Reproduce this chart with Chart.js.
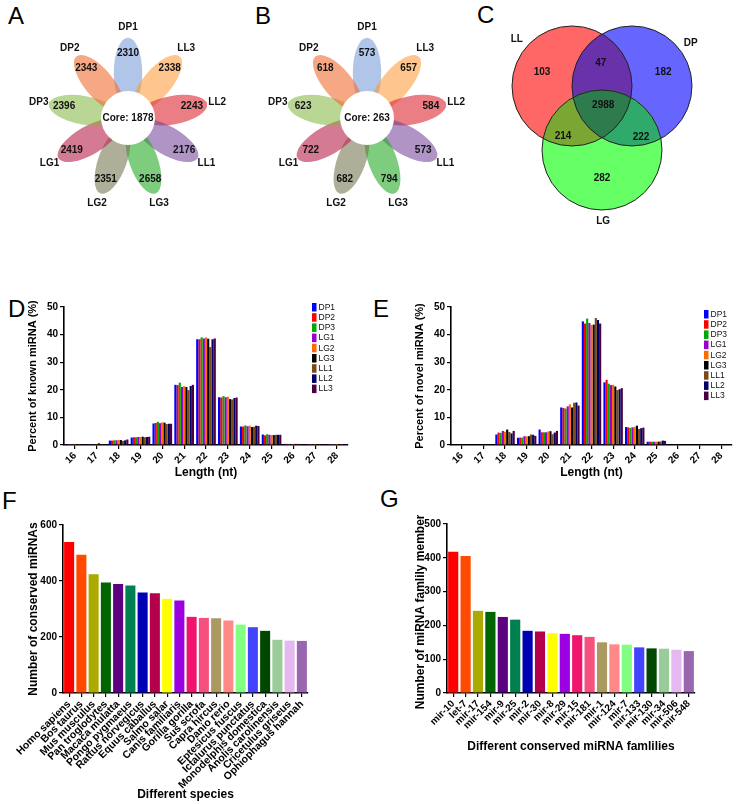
<!DOCTYPE html>
<html>
<head>
<meta charset="utf-8">
<script src="https://cdn.jsdelivr.net/npm/chart.js@4.4.0/dist/chart.umd.min.js"></script>
<style>
  body { margin: 0; background: #fff; }
  #fig { position: relative; width: 736px; height: 804px; overflow: hidden; font-family: 'Liberation Sans', Arial, sans-serif; }
  #fig canvas { position: absolute; }
  .tag { position: absolute; font-size: 24px; line-height: 1; color: #000; }
</style>
</head>
<body>
<div id="fig">
  <div class="tag" style="left:8px;top:4px">A</div>
  <div class="tag" style="left:255px;top:4px">B</div>
  <div class="tag" style="left:477px;top:3px">C</div>
  <div class="tag" style="left:8px;top:297px">D</div>
  <div class="tag" style="left:373px;top:297px">E</div>
  <div class="tag" style="left:2px;top:489px">F</div>
  <div class="tag" style="left:380px;top:487px">G</div>

  <canvas id="chartA" width="206" height="206" style="left:25px;top:15px"></canvas>
  <canvas id="chartB" width="206" height="206" style="left:264px;top:15px"></canvas>
  <canvas id="chartC" width="240" height="240" style="left:482px;top:0px"></canvas>
  <canvas id="chartD" width="360" height="195" style="left:0px;top:295px"></canvas>
  <canvas id="chartE" width="376" height="195" style="left:360px;top:295px"></canvas>
  <canvas id="chartF" width="360" height="289" style="left:0px;top:515px"></canvas>
  <canvas id="chartG" width="376" height="289" style="left:360px;top:515px"></canvas>
</div>

<script>
const FONT = "'Liberation Sans', Arial, sans-serif";
Chart.defaults.font.family = FONT;
Chart.defaults.color = '#000';

// ---- A / B flower plots: petals go clockwise from the top
const flowerSamples = ['DP1', 'LL3', 'LL2', 'LL1', 'LG3', 'LG2', 'LG1', 'DP3', 'DP2'];
const knownCounts = [2310, 2338, 2243, 2176, 2658, 2351, 2419, 2396, 2343];
const knownCore = 1878;
const novelCounts = [573, 657, 584, 573, 794, 682, 722, 623, 618];
const novelCore = 263;

// ---- C venn
const vennSets = ['LL', 'DP', 'LG'];
const vennRegions = ['LL', 'LL+DP', 'DP', 'LL+DP+LG', 'LL+LG', 'DP+LG', 'LG'];
const vennCounts = [103, 47, 182, 2988, 214, 222, 282];

// ---- D / E length distribution
const lengths = ['16', '17', '18', '19', '20', '21', '22', '23', '24', '25', '26', '27', '28'];
const samples = ['DP1', 'DP2', 'DP3', 'LG1', 'LG2', 'LG3', 'LL1', 'LL2', 'LL3'];
// one row per sample, 16..28 nt
const knownPct = [
  [0.1, 0.3, 1.6, 2.7, 7.8, 21.8, 38.3, 17.3, 6.7, 3.8, 0.4, 0.1, 0.05],
  [0.1, 0.3, 1.6, 2.8, 8.0, 21.7, 38.3, 17.2, 6.7, 3.5, 0.4, 0.1, 0.05],
  [0.1, 0.3, 1.7, 2.8, 8.4, 22.6, 39.0, 17.7, 7.1, 3.9, 0.4, 0.1, 0.05],
  [0.1, 0.3, 1.7, 2.9, 7.9, 21.0, 38.6, 17.3, 6.8, 3.7, 0.4, 0.1, 0.05],
  [0.1, 0.3, 1.8, 2.9, 8.2, 21.3, 39.0, 17.5, 7.0, 3.6, 0.4, 0.1, 0.05],
  [0.1, 0.6, 1.8, 3.0, 8.1, 21.0, 38.5, 16.6, 6.5, 3.6, 0.4, 0.1, 0.05],
  [0.1, 0.3, 1.5, 2.8, 7.6, 19.9, 35.5, 16.5, 6.6, 3.7, 0.4, 0.1, 0.05],
  [0.1, 0.3, 1.7, 2.9, 7.7, 21.4, 38.3, 17.0, 7.0, 3.7, 0.3, 0.1, 0.05],
  [0.1, 0.3, 2.0, 3.0, 7.7, 21.8, 38.6, 17.2, 6.9, 3.7, 0.3, 0.1, 0.05]
];
const novelPct = [
  [0, 0, 3.8, 2.6, 5.6, 13.6, 44.8, 22.7, 6.5, 1.2, 0, 0, 0],
  [0, 0, 4.5, 2.7, 4.6, 13.4, 44.0, 23.6, 6.4, 1.2, 0, 0, 0],
  [0, 0, 4.4, 2.7, 4.6, 13.2, 45.8, 22.2, 6.2, 1.2, 0, 0, 0],
  [0, 0, 5.1, 3.2, 4.6, 14.0, 44.2, 21.7, 6.4, 1.2, 0, 0, 0],
  [0, 0, 4.8, 3.1, 4.9, 14.7, 43.5, 21.8, 6.5, 1.2, 0, 0, 0],
  [0, 0, 5.6, 3.2, 5.0, 13.6, 43.6, 21.2, 7.0, 1.2, 0, 0, 0],
  [0, 0, 4.7, 3.8, 3.9, 15.3, 46.0, 19.9, 5.8, 1.3, 0, 0, 0],
  [0, 0, 4.2, 3.7, 4.5, 15.4, 45.3, 20.2, 6.1, 1.6, 0, 0, 0],
  [0, 0, 5.1, 3.3, 5.1, 14.3, 44.0, 20.6, 6.3, 1.5, 0, 0, 0]
];

// ---- F species
const species = ['Homo sapiens', 'Bos taurus', 'Mus musculus', 'Pan troglodytes', 'Macaca mulatta',
  'Pongo pygmaeus', 'Rattus norvegicus', 'Equus caballus', 'Salmo salar', 'Canis familiaris',
  'Gorilla gorilla', 'Sus scrofa', 'Capra hircus', 'Danio rerio', 'Eptesicus fuscus',
  'Ictalurus punctatus', 'Monodelphis domestica', 'Anolis carolinensis', 'Cricetulus griseus', 'Ophiophagus hannah'];
const speciesCounts = [539, 494, 424, 395, 389, 384, 359, 356, 337, 330, 272, 268, 267, 259, 244, 235, 222, 190, 187, 186];

// ---- G families
const families = ['mir-10', 'let-7', 'mir-17', 'mir-154', 'mir-9', 'mir-25', 'mir-2', 'mir-30', 'mir-8', 'mir-29',
  'mir-15', 'mir-181', 'mir-1', 'mir-124', 'mir-7', 'mir-133', 'mir-130', 'mir-34', 'mir-506', 'mir-548'];
const familyCounts = [418, 405, 243, 240, 225, 217, 184, 182, 177, 175, 171, 166, 150, 144, 143, 135, 132, 131, 128, 124];

// styles
const petalColors = ['rgba(100,140,210,0.5)', 'rgba(255,150,50,0.55)', 'rgba(220,40,50,0.6)', 'rgba(110,60,150,0.55)',
  'rgba(40,170,40,0.6)', 'rgba(110,110,70,0.55)', 'rgba(185,40,80,0.62)', 'rgba(130,180,60,0.55)', 'rgba(240,110,50,0.6)'];
const sampleColors = ['#0000ff', '#ff0000', '#00a800', '#9a00d0', '#ff6a00', '#000000', '#7b4a1a', '#00006a', '#4a0040'];
const rainbow = ['#ff0000', '#ff4a00', '#aaaa00', '#006400', '#5a0080', '#008050', '#0000b4', '#b4004a', '#ffff00', '#9b00e0',
  '#f0146e', '#f5507e', '#aa9a62', '#ff8888', '#80ff80', '#4444ff', '#004800', '#99cc99', '#e6b8f0', '#9966b0'];

// flower drawing
const flowerPlugin = {
  id: 'flower',
  beforeDatasetsDraw(chart, args, o) {
    const { ctx, scales: { x, y } } = chart;
    const u = x.getPixelForValue(1) - x.getPixelForValue(0);
    const cx = x.getPixelForValue(0), cy = y.getPixelForValue(0);
    o.labels.forEach((lab, i) => {
      const a = (90 - i * 40) * Math.PI / 180;
      ctx.save();
      ctx.translate(cx, cy);
      ctx.rotate(-a);
      ctx.beginPath();
      ctx.ellipse(0.44 * u, 0, 0.34 * u, 0.138 * u, 0, 0, Math.PI * 2);
      ctx.fillStyle = petalColors[i];
      ctx.fill();
      ctx.restore();
    });
    ctx.beginPath();
    ctx.arc(cx, cy, 0.262 * u, 0, Math.PI * 2);
    ctx.fillStyle = '#fff';
    ctx.fill();
  },
  afterDatasetsDraw(chart, args, o) {
    const { ctx, scales: { x, y } } = chart;
    const u = x.getPixelForValue(1) - x.getPixelForValue(0);
    const cx = x.getPixelForValue(0), cy = y.getPixelForValue(0);
    ctx.save();
    ctx.textAlign = 'center';
    ctx.textBaseline = 'middle';
    ctx.font = 'bold 10px ' + FONT;
    ctx.fillStyle = '#111';
    o.labels.forEach((lab, i) => {
      const a = (90 - i * 40) * Math.PI / 180;
      ctx.fillText(String(o.counts[i]), cx + 0.63 * u * Math.cos(a), cy - 0.63 * u * Math.sin(a));
      ctx.fillText(lab, cx + 0.88 * u * Math.cos(a), cy - 0.88 * u * Math.sin(a));
    });
    ctx.fillText('Core: ' + o.core, cx, cy);
    ctx.restore();
  }
};

function flower(id, counts, core) {
  return new Chart(document.getElementById(id), {
    type: 'scatter',
    data: { datasets: [{ data: [] }] },
    options: {
      responsive: false, animation: false,
      layout: { padding: 0 },
      plugins: { legend: { display: false }, tooltip: { enabled: false },
        flower: { labels: flowerSamples, counts: counts, core: core } },
      scales: { x: { display: false, min: -1, max: 1 }, y: { display: false, min: -1, max: 1 } }
    },
    plugins: [flowerPlugin]
  });
}
flower('chartA', knownCounts, knownCore);
flower('chartB', novelCounts, novelCore);

// venn drawing
const vennCenters = [[-0.5, 0.567], [0.5, 0.567], [0, -0.5]];
const vennSetPos = [[-1.42, 1.35], [1.48, 1.28], [0.02, -1.68]];
const vennRegionPos = [[-1.0, 0.8], [-0.02, 0.95], [1.02, 0.8], [0.02, 0.25], [-0.65, -0.27], [0.65, -0.28], [0, -0.97]];
const vennFills = ['#ff6666', '#6666ff', '#66ff66'];

const vennPlugin = {
  id: 'venn',
  beforeDatasetsDraw(chart) {
    const { ctx, scales: { x, y } } = chart;
    const r = x.getPixelForValue(1) - x.getPixelForValue(0);
    const c = vennCenters.map(p => [x.getPixelForValue(p[0]), y.getPixelForValue(p[1])]);
    const circle = i => { ctx.beginPath(); ctx.arc(c[i][0], c[i][1], r, 0, Math.PI * 2); };
    [0, 1, 2].forEach(i => { circle(i); ctx.fillStyle = vennFills[i]; ctx.fill(); });
    const clipFill = (ids, col) => {
      ctx.save();
      ids.forEach(i => { circle(i); ctx.clip(); });
      ctx.fillStyle = col;
      ctx.fillRect(0, 0, chart.width, chart.height);
      ctx.restore();
    };
    clipFill([0, 1], '#6a32aa');
    clipFill([0, 2], '#7aa633');
    clipFill([1, 2], '#30aa6a');
    clipFill([0, 1, 2], '#2e7b4e');
    ctx.strokeStyle = '#222';
    ctx.lineWidth = 1;
    [0, 1, 2].forEach(i => { circle(i); ctx.stroke(); });
  },
  afterDatasetsDraw(chart) {
    const { ctx, scales: { x, y } } = chart;
    ctx.save();
    ctx.textAlign = 'center';
    ctx.textBaseline = 'middle';
    ctx.font = 'bold 10px ' + FONT;
    ctx.fillStyle = '#111';
    vennCounts.forEach((v, i) => ctx.fillText(String(v), x.getPixelForValue(vennRegionPos[i][0]), y.getPixelForValue(vennRegionPos[i][1])));
    vennSets.forEach((s, i) => ctx.fillText(s, x.getPixelForValue(vennSetPos[i][0]), y.getPixelForValue(vennSetPos[i][1])));
    ctx.restore();
  }
};

new Chart(document.getElementById('chartC'), {
  type: 'scatter',
  data: { datasets: [{ data: [] }] },
  options: {
    responsive: false, animation: false,
    layout: { padding: 0 },
    plugins: { legend: { display: false }, tooltip: { enabled: false } },
    scales: { x: { display: false, min: -2, max: 2 }, y: { display: false, min: -2, max: 2 } }
  },
  plugins: [vennPlugin]
});

// small legend inside D / E
const boxLegend = {
  id: 'boxLegend',
  afterDraw(chart, args, o) {
    const ctx = chart.ctx;
    ctx.save();
    ctx.font = '8.5px ' + FONT;
    ctx.textBaseline = 'middle';
    chart.data.datasets.forEach((ds, i) => {
      const yy = o.y + i * o.step;
      ctx.fillStyle = ds.backgroundColor;
      ctx.fillRect(o.x, yy, 4.5, 8.5);
      ctx.fillStyle = '#111';
      ctx.fillText(ds.label, o.x + 6.5, yy + 4.5);
    });
    ctx.restore();
  }
};

function axisStyle() {
  return {
    grid: { display: true, drawOnChartArea: false, drawTicks: true, tickLength: 4, color: '#000', lineWidth: 1.2, offset: false },
    border: { display: true, color: '#000', width: 1.6 }
  };
}

function lengthChart(id, rows, yTitle, o) {
  return new Chart(document.getElementById(id), {
    type: 'bar',
    data: {
      labels: lengths,
      datasets: samples.map((s, i) => ({
        label: s, data: rows[i], backgroundColor: sampleColors[i],
        borderWidth: 0, barPercentage: 1, categoryPercentage: 0.9
      }))
    },
    options: {
      responsive: false, animation: false,
      layout: { padding: { top: 12, right: o.right, left: 0, bottom: 0 } },
      plugins: { legend: { display: false }, tooltip: { enabled: false },
        boxLegend: { x: o.legX, y: o.legY, step: 10.2 } },
      scales: {
        x: Object.assign(axisStyle(), {
          ticks: { font: { size: 10, weight: 'bold' }, minRotation: 45, maxRotation: 45, autoSkip: false, padding: 1 },
          title: { display: true, text: 'Length (nt)', font: { size: 12, weight: 'bold' }, padding: { top: 0, bottom: 10 } },
          afterFit(s) { s.height = 45; }
        }),
        y: Object.assign(axisStyle(), {
          min: 0, max: 50,
          ticks: { stepSize: 10, font: { size: 10, weight: 'bold' }, padding: 2 },
          title: { display: true, text: yTitle, font: { size: 11, weight: 'bold' }, padding: { top: o.titleTop, bottom: 0 } },
          afterFit(s) { s.width = o.yWidth; }
        })
      }
    },
    plugins: [boxLegend]
  });
}
lengthChart('chartD', knownPct, 'Percent of known miRNA (%)', { right: 12, legX: 312, legY: 8, titleTop: 26, yWidth: 64 });
lengthChart('chartE', novelPct, 'Percent of novel miRNA (%)', { right: 4, legX: 344, legY: 15, titleTop: 53, yWidth: 91 });

function rankChart(id, labels, values, o) {
  return new Chart(document.getElementById(id), {
    type: 'bar',
    data: {
      labels: labels,
      datasets: [{ data: values, backgroundColor: rainbow, borderWidth: 0, barPercentage: 0.82, categoryPercentage: 1 }]
    },
    options: {
      responsive: false, animation: false,
      layout: { padding: { top: o.top, right: o.right, left: 0, bottom: 0 } },
      plugins: { legend: { display: false }, tooltip: { enabled: false } },
      scales: {
        x: Object.assign(axisStyle(), {
          ticks: { font: { size: o.xFont, weight: 'bold' }, minRotation: 45, maxRotation: 45, autoSkip: false, padding: 1 },
          title: { display: true, text: o.xTitle, font: { size: 12, weight: 'bold' }, padding: { top: 0, bottom: o.xTitleBottom } },
          afterFit(s) { s.height = 111; }
        }),
        y: Object.assign(axisStyle(), {
          min: 0, max: o.max,
          ticks: { stepSize: o.step, font: { size: 10, weight: 'bold' }, padding: 2 },
          title: { display: true, text: o.yTitle, font: { size: 12, weight: 'bold' }, padding: { top: o.titleTop, bottom: 0 } },
          afterFit(s) { s.width = o.yWidth; }
        })
      }
    }
  });
}
rankChart('chartF', species, speciesCounts, {
  top: 10, right: 52, xFont: 10.5, max: 600, step: 200, yWidth: 63, titleTop: 26,
  xTitle: 'Different species', xTitleBottom: 2, yTitle: 'Number of conserved miRNAs'
});
rankChart('chartG', families, familyCounts, {
  top: 9, right: 41, xFont: 10, max: 500, step: 100, yWidth: 87, titleTop: 53,
  xTitle: 'Different conserved miRNA famlilies', xTitleBottom: 50, yTitle: 'Number of miRNA famlily members'
});
</script>
</body>
</html>
